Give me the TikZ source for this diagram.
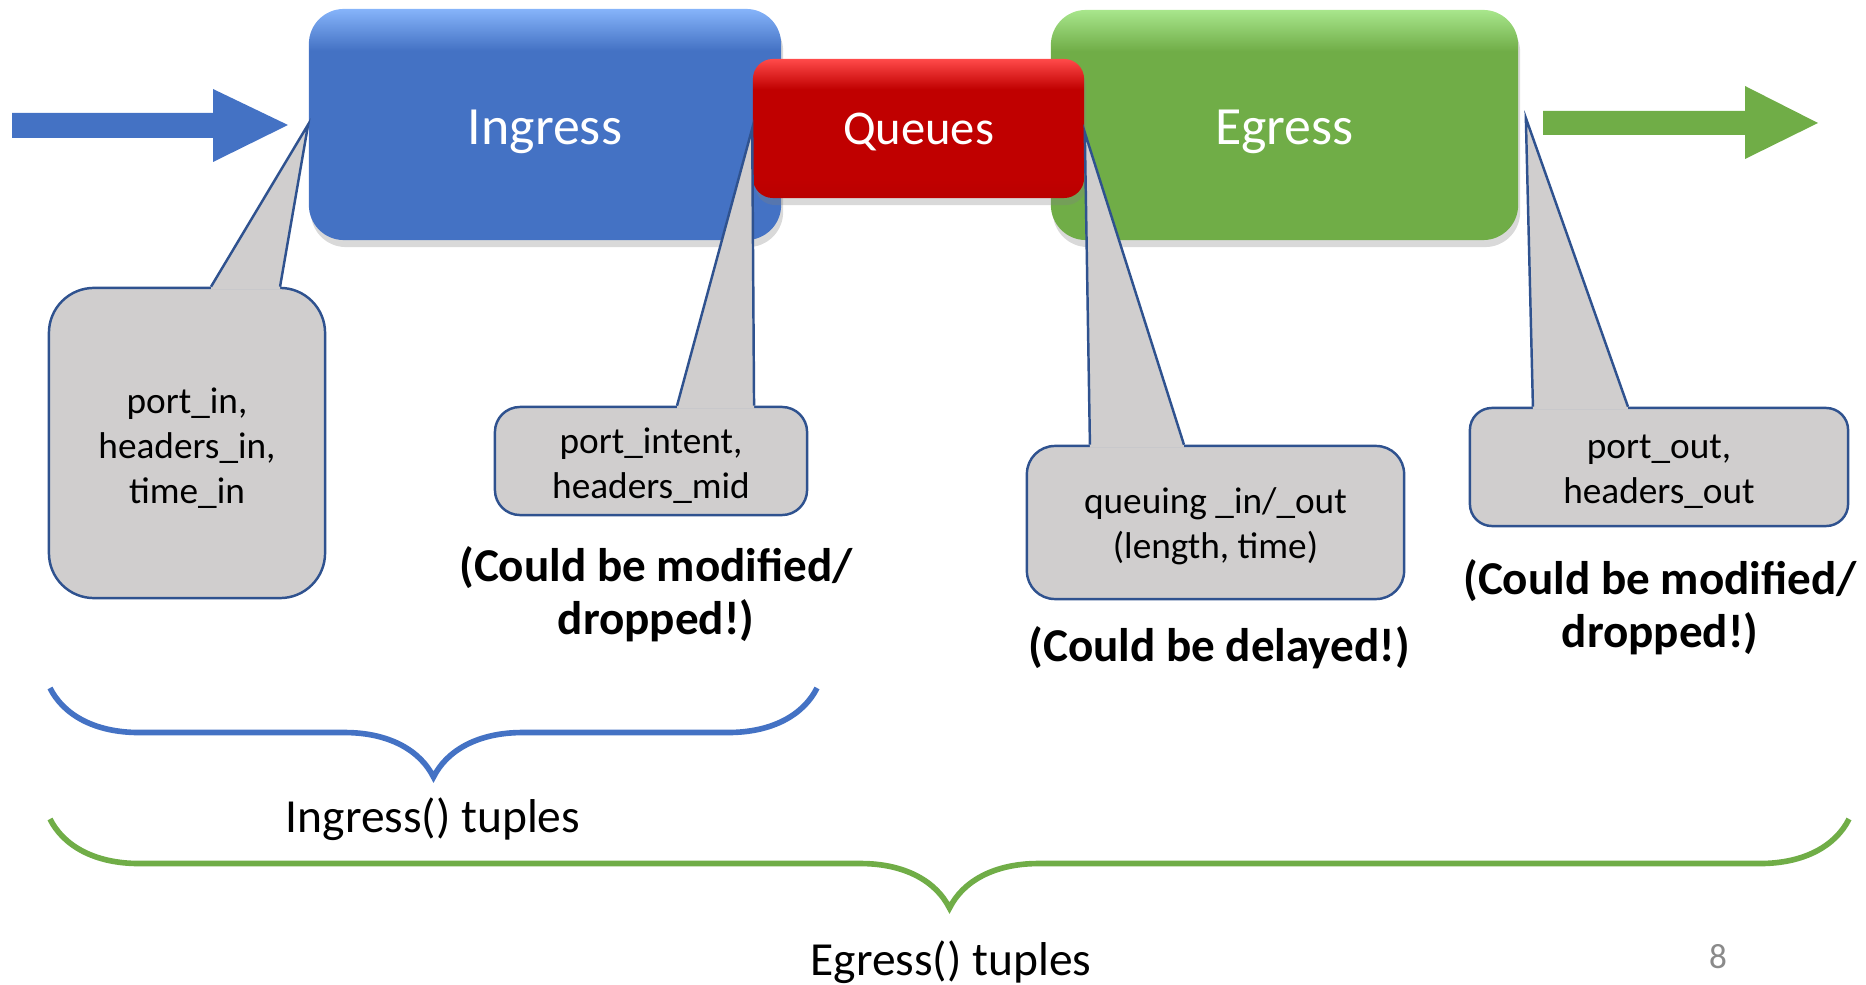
\documentclass[tikz,border=0pt]{standalone}
\usepackage{fontspec}
\setmainfont{Carlito}
\usetikzlibrary{shadows,decorations.pathreplacing}

\definecolor{ingblue}{HTML}{4472C4}
\definecolor{ingtop}{HTML}{86B4FA}
\definecolor{qred}{HTML}{C00000}
\definecolor{qtop}{HTML}{FF4A4A}
\definecolor{egreen}{HTML}{70AD47}
\definecolor{egtop}{HTML}{A8E68C}
\definecolor{callgray}{HTML}{D0CECE}
\definecolor{callline}{HTML}{2F528F}
\definecolor{pagegray}{HTML}{8A8A8A}

\pgfdeclareverticalshading{ingshade}{100bp}{color(0bp)=(ingblue); color(66bp)=(ingblue); color(75bp)=(ingtop); color(100bp)=(ingtop)}
\pgfdeclareverticalshading{qshade}{100bp}{color(0bp)=(qred!85!black); color(32bp)=(qred); color(64bp)=(qred); color(75bp)=(qtop); color(100bp)=(qtop)}
\pgfdeclareverticalshading{egshade}{100bp}{color(0bp)=(egreen); color(66bp)=(egreen); color(75bp)=(egtop); color(100bp)=(egtop)}

\tikzset{
  stage/.style={rounded corners=0.35cm, text=white, text height=0.39cm, text depth=0pt,
    font=\fontsize{15.3}{18}\selectfont,
    drop shadow={shadow xshift=0.02cm, shadow yshift=-0.07cm, opacity=0.3}},
  callout/.style={draw=callline, fill=callgray, line width=0.7pt},
  calltext/.style={align=center, font=\fontsize{10.6}{12.8}\selectfont},
  pointer/.style={draw=callline, line width=0.7pt},
  note/.style={align=center, font=\fontsize{13.4}{15.1}\selectfont\bfseries},
  tuples/.style={anchor=base, font=\fontsize{13.5}{16}\selectfont},
  curly/.style={decorate, decoration={brace, mirror, amplitude=0.89cm, aspect=0.5}, line width=1.6pt}
}

\begin{document}
\begin{tikzpicture}[x=0.01cm,y=-0.01cm]
\useasboundingbox (0,0) rectangle (1866,985);
% Stages
\node[stage, shading=ingshade, minimum width=4.72cm, minimum height=2.31cm] (ingress) at (545,124.5) {Ingress};
\node[stage, shading=egshade, minimum width=4.67cm, minimum height=2.30cm] (egress) at (1284.5,125) {Egress};
\node[stage, shading=qshade, rounded corners=0.2cm, minimum width=3.31cm, minimum height=1.39cm,
  text height=0.31cm, font=\fontsize{13.8}{16}\selectfont] (queues) at (918.5,128.5) {Queues};
% Arrows in and out
\fill[ingblue] (12,113) -- (213,113) -- (213,89) -- (288,125) -- (213,162) -- (213,138) -- (12,138) -- cycle;
\fill[egreen] (1543,111) -- (1745,111) -- (1745,86) -- (1818,123) -- (1745,159) -- (1745,135) -- (1543,135) -- cycle;
% Callouts
\node[callout, rounded corners=0.45cm, minimum width=2.76cm, minimum height=3.10cm] (inlist) at (187,443) {};
\node[callout, rounded corners=0.25cm, minimum width=3.12cm, minimum height=1.08cm] (midlist) at (651,461) {};
\node[callout, rounded corners=0.28cm, minimum width=3.77cm, minimum height=1.53cm] (qlist) at (1215.5,522.5) {};
\node[callout, rounded corners=0.22cm, minimum width=3.78cm, minimum height=1.18cm] (outlist) at (1659,467) {};
% Pointers
\fill[callgray] ([xshift=0.24cm,yshift=-0.03cm]inlist.north) -- ([xshift=0.24cm]inlist.north) -- (ingress.west)
  -- ([xshift=0.93cm]inlist.north) -- ([xshift=0.93cm,yshift=-0.03cm]inlist.north) -- cycle;
\draw[pointer] ([xshift=0.24cm]inlist.north) -- (ingress.west) -- ([xshift=0.93cm]inlist.north);
\fill[callgray] ([xshift=0.26cm,yshift=-0.03cm]midlist.north) -- ([xshift=0.26cm]midlist.north) -- (queues.west)
  -- ([xshift=1.03cm]midlist.north) -- ([xshift=1.03cm,yshift=-0.03cm]midlist.north) -- cycle;
\draw[pointer] ([xshift=0.26cm]midlist.north) -- (queues.west) -- ([xshift=1.03cm]midlist.north);
\fill[callgray] ([xshift=-1.255cm,yshift=-0.03cm]qlist.north) -- ([xshift=-1.255cm]qlist.north) -- ([yshift=-0.04cm]queues.east)
  -- ([xshift=-0.315cm]qlist.north) -- ([xshift=-0.315cm,yshift=-0.03cm]qlist.north) -- cycle;
\draw[pointer] ([xshift=-1.255cm]qlist.north) -- ([yshift=-0.04cm]queues.east) -- ([xshift=-0.315cm]qlist.north);
\fill[callgray] ([xshift=-1.26cm,yshift=-0.03cm]outlist.north) -- ([xshift=-1.26cm]outlist.north) -- ([xshift=0.07cm,yshift=0.07cm]egress.east)
  -- ([xshift=-0.31cm]outlist.north) -- ([xshift=-0.31cm,yshift=-0.03cm]outlist.north) -- cycle;
\draw[pointer] ([xshift=-1.26cm]outlist.north) -- ([xshift=0.07cm,yshift=0.07cm]egress.east) -- ([xshift=-0.31cm]outlist.north);
% Callout texts
\node[calltext] (intext) at ([yshift=-0.05cm]inlist.center) {port\_in,\\headers\_in,\\time\_in};
\node[calltext] (midtext) at ([yshift=-0.05cm]midlist.center) {port\_intent,\\headers\_mid};
\node[calltext] (qtext) at ([yshift=-0.04cm]qlist.center) {queuing \_in/\_out\\(length, time)};
\node[calltext] (outtext) at ([yshift=-0.05cm]outlist.center) {port\_out,\\headers\_out};
% Notes
\node[note] (midnote) at (656,594) {(Could be modified/\\dropped!)};
\node[note] (qnote) at (1219,647.5) {(Could be delayed!)};
\node[note] (outnote) at (1660,607.5) {(Could be modified/\\dropped!)};
% Braces
\coordinate (inl) at (50,688);
\coordinate (inr) at (817,688);
\coordinate (egl) at (50,819);
\coordinate (egr) at (1849,819);
\draw[curly, ingblue] (inl) -- (inr);
\draw[curly, egreen] (egl) -- (egr);
\node[tuples] (intuples) at (433,832) {Ingress() tuples};
\node[tuples] (egtuples) at (951,975) {Egress() tuples};
\node[anchor=base, text=pagegray, font=\fontsize{10}{12}\selectfont] (pagenum) at (1718,968) {8};
\end{tikzpicture}
\end{document}
